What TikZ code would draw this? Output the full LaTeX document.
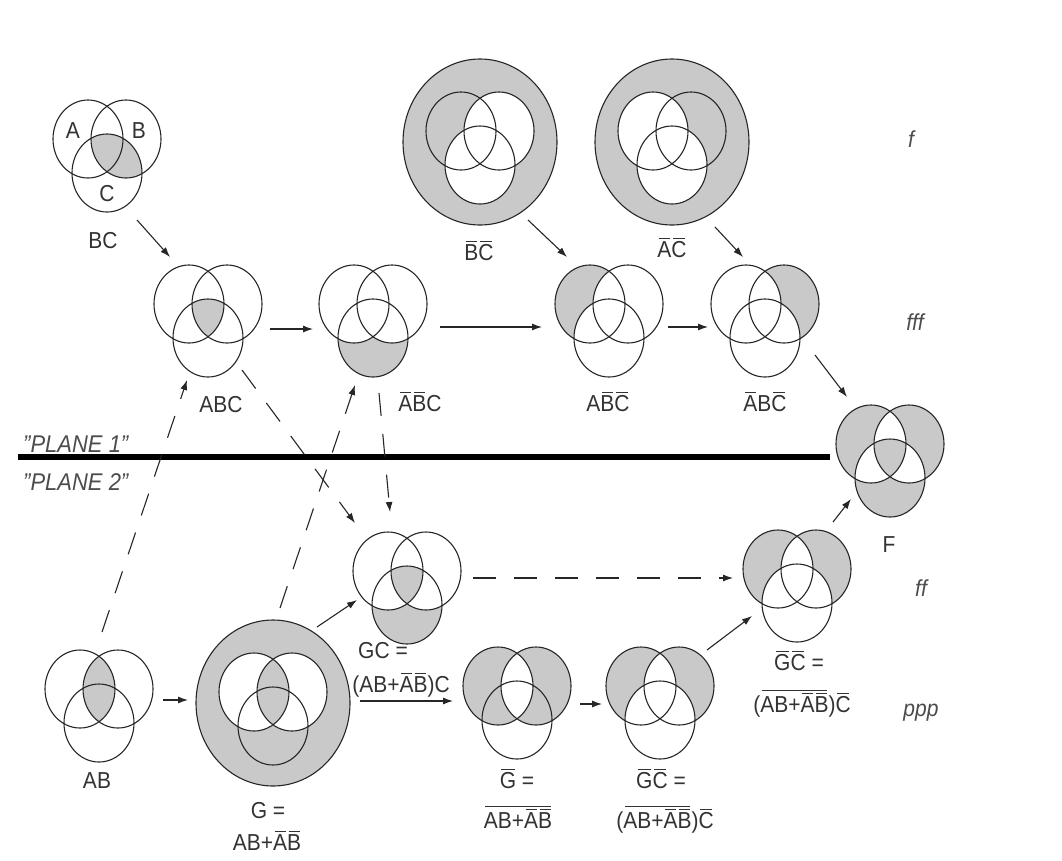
\documentclass[tikz,border=0pt]{standalone}
\usepackage{fontspec}
\setmainfont{Liberation Sans}
\usetikzlibrary{arrows.meta}
% overline with a small inset so adjacent bars stay separate
\newcommand\ob[1]{\leavevmode\hbox{\setbox0\hbox{#1}\rlap{\kern1.5pt\vrule height\dimexpr\ht0+3pt\relax depth -\dimexpr\ht0+1.8pt\relax width\dimexpr\wd0-3pt\relax}\box0}}
\newcommand\sy[1]{\scalebox{1}[1.1]{#1}}
% circle paths (relative to a diagram centre)
\def\inA{\clip (-19,-17) ellipse[x radius=35,y radius=39];}
\def\inB{\clip (19,-17) ellipse[x radius=35,y radius=39];}
\def\inC{\clip (0,17) ellipse[x radius=35,y radius=39];}
\def\outA{\clip (-130,-130) rectangle (130,130) (-19,-17) ellipse[x radius=35,y radius=39];}
\def\outB{\clip (-130,-130) rectangle (130,130) (19,-17) ellipse[x radius=35,y radius=39];}
\def\outC{\clip (-130,-130) rectangle (130,130) (0,17) ellipse[x radius=35,y radius=39];}
\def\inU{\clip (0,-6) ellipse[x radius=77,y radius=83];}
\newcommand\rg[1]{\begin{scope}[even odd rule]#1\fill[shd] (-130,-130) rectangle (130,130);\end{scope}}
\newcommand\threecircles{%
  \draw[ring] (-19,-17) ellipse[x radius=35,y radius=39];
  \draw[ring] (19,-17) ellipse[x radius=35,y radius=39];
  \draw[ring] (0,17) ellipse[x radius=35,y radius=39];}
\newcommand\venn[3]{\coordinate (#1) at (#2);
  \begin{scope}[shift={(#2)}]#3\threecircles\end{scope}}
\newcommand\bigvenn[3]{\coordinate (#1) at (#2);
  \begin{scope}[shift={(#2)}]#3
  \draw[ring] (0,-6) ellipse[x radius=77,y radius=83];
  \threecircles\end{scope}}
\tikzset{
  shd/.style={fill=black!21},
  ring/.style={draw=black!85, line width=1.1pt},
  arr/.style={draw=black!85, line width=1.1pt, -{Latex[length=10pt,width=7pt]}},
  darr/.style={arr, dash pattern=on 23pt off 18pt},
  lbl/.style={font=\fontsize{21}{25}\selectfont, text=black!80, inner sep=0pt, anchor=base},
  tag/.style={font=\fontsize{21}{25}\selectfont\itshape, text=black!70, inner sep=0pt, anchor=base},
}
\begin{document}
\begin{tikzpicture}[x=1pt,y=-1pt]
\path[use as bounding box, fill=white] (0,0) rectangle (1062,860);

% ---------- diagrams ----------
\venn{bc}{107,156}{\rg{\inB\inC}}
\venn{abc}{208,321}{\rg{\inA\inB\inC}}
\venn{nanbc}{373,321}{\rg{\inC\outA\outB}}
\bigvenn{nbnc}{480,148}{\rg{\inU\outB\outC}}
\bigvenn{nanc}{672,148}{\rg{\inU\outA\outC}}
\venn{anbnc}{609,321}{\rg{\inA\outB\outC}}
\venn{nabnc}{765,321}{\rg{\inB\outA\outC}}
\venn{f}{890,461}{\fill[shd, even odd rule] (-19,-17) ellipse[x radius=35,y radius=39] (19,-17) ellipse[x radius=35,y radius=39] (0,17) ellipse[x radius=35,y radius=39];}
\venn{gc}{407,588}{\rg{\inC\inA\inB}\rg{\inC\outA\outB}}
\venn{ngncf}{797,586}{\rg{\outC\inA\outB}\rg{\outC\inB\outA}}
\venn{ab}{99,706}{\rg{\inA\inB}}
\bigvenn{g}{273,709}{\rg{\inU\outA\outB}\rg{\inA\inB}}
\venn{ng}{517,703}{\fill[shd, even odd rule] (-19,-17) ellipse[x radius=35,y radius=39] (19,-17) ellipse[x radius=35,y radius=39];}
\venn{ngncp}{660,703}{\rg{\outC\inA\outB}\rg{\outC\inB\outA}}

% ---------- plane separator ----------
\coordinate (pl-l) at (18,457);
\coordinate (pl-r) at (830,457);
\draw[line width=6.5pt] (pl-l) -- (pl-r);
\node[tag, anchor=base west, font=\fontsize{22}{26}\selectfont\itshape] (p1) at (23,452) {\sy{"PLANE 1"}};
\node[tag, anchor=base west, font=\fontsize{22}{26}\selectfont\itshape] (p2) at (23,490) {\sy{"PLANE 2"}};

% ---------- labels ----------
\node[lbl] (la) at (73,138) {\sy{A}};
\node[lbl] (lb) at (139,138) {\sy{B}};
\node[lbl] (lc) at (107,201) {\sy{C}};
\node[lbl] (l-bc) at (103,248) {\sy{BC}};
\node[lbl] (l-abc) at (221,412) {\sy{ABC}};
\node[lbl] (l-nanbc) at (420,411) {\sy{\ob{A}\ob{B}C}};
\node[lbl] (l-nbnc) at (479,260) {\sy{\ob{B}\ob{C}}};
\node[lbl] (l-nanc) at (672,257) {\sy{\ob{A}\ob{C}}};
\node[lbl] (l-anbnc) at (608,411) {\sy{A\ob{B}\ob{C}}};
\node[lbl] (l-nabnc) at (765,411) {\sy{\ob{A}B\ob{C}}};
\node[lbl] (l-f) at (889,552) {\sy{F}};
\node[lbl] (l-gc1) at (383,658) {\sy{GC =}};
\node[lbl] (l-gc2) at (401,692) {\sy{(AB+\ob{A}\ob{B})C}};
\node[lbl] (l-ab) at (97,788) {\sy{AB}};
\node[lbl] (l-g1) at (268,818) {\sy{G =}};
\node[lbl] (l-g2) at (267,850) {\sy{AB+\ob{A}\ob{B}}};
\node[lbl] (l-ng1) at (517,788) {\sy{\ob{G} =}};
\node[lbl] (l-ng2) at (518,828) {\sy{\ob{AB+\ob{A}\ob{B}}}};
\node[lbl] (l-ngncp1) at (661,788) {\sy{\ob{G}\ob{C} =}};
\node[lbl] (l-ngncp2) at (665,828) {\sy{(\ob{AB+\ob{A}\ob{B}})\ob{C}}};
\node[lbl] (l-ngncf1) at (799,670) {\sy{\ob{G}\ob{C} =}};
\node[lbl] (l-ngncf2) at (802,712) {\sy{(\ob{AB+\ob{A}\ob{B}})\ob{C}}};

\node[tag] (t-f) at (911,147) {\sy{f}};
\node[tag] (t-fff) at (915,330) {\sy{fff}};
\node[tag] (t-ff) at (921,596) {\sy{ff}};
\node[tag] (t-ppp) at (921,716) {\sy{ppp}};

% ---------- solid arrows ----------
\draw[arr] ([shift={(30,64)}]bc) -- ([shift={(-38,-64)}]abc);
\draw[arr] ([shift={(62,8)}]abc) -- ([shift={(-60,8)}]nanbc);
\draw[arr] ([shift={(67,6)}]nanbc) -- ([shift={(-67,6)}]anbnc);
\draw[arr] ([shift={(59,6)}]anbnc) -- ([shift={(-57,6)}]nabnc);
\draw[arr] ([shift={(48,72)}]nbnc) -- ([shift={(-42,-64)}]anbnc);
\draw[arr] ([shift={(43,79)}]nanc) -- ([shift={(-22,-64)}]nabnc);
\draw[arr] ([shift={(50,34)}]nabnc) -- ([shift={(-43,-64)}]f);
\draw[arr] ([shift={(36,-64)}]ngncf) -- ([shift={(-39,38)}]f);
\draw[arr] ([shift={(47,-53)}]ngncp) -- ([shift={(-45,30)}]ngncf);
\draw[arr] ([shift={(63,1)}]ng) -- ([shift={(-58,1)}]ngncp);
\draw[arr] ([shift={(87,-8)}]g) -- ([shift={(-64,-2)}]ng);
\draw[arr] ([shift={(64,-6)}]ab) -- ([shift={(-85,-9)}]g);
\draw[arr] ([shift={(44,-82)}]g) -- ([shift={(-50,12)}]gc);

% ---------- dashed arrows ----------
\draw[darr] ([shift={(66,-10)}]gc) -- ([shift={(-64,-8)}]ngncf);
\draw[darr] ([shift={(3,-74)}]ab) -- ([shift={(-21,59)}]abc);
\draw[darr] ([shift={(7,-101)}]g) -- ([shift={(-18,64)}]nanbc);
\draw[darr] ([shift={(34,49)}]abc) -- ([shift={(-52,-65)}]gc);
\draw[darr] ([shift={(6,72)}]nanbc) -- ([shift={(-17,-76)}]gc);
\end{tikzpicture}
\end{document}
